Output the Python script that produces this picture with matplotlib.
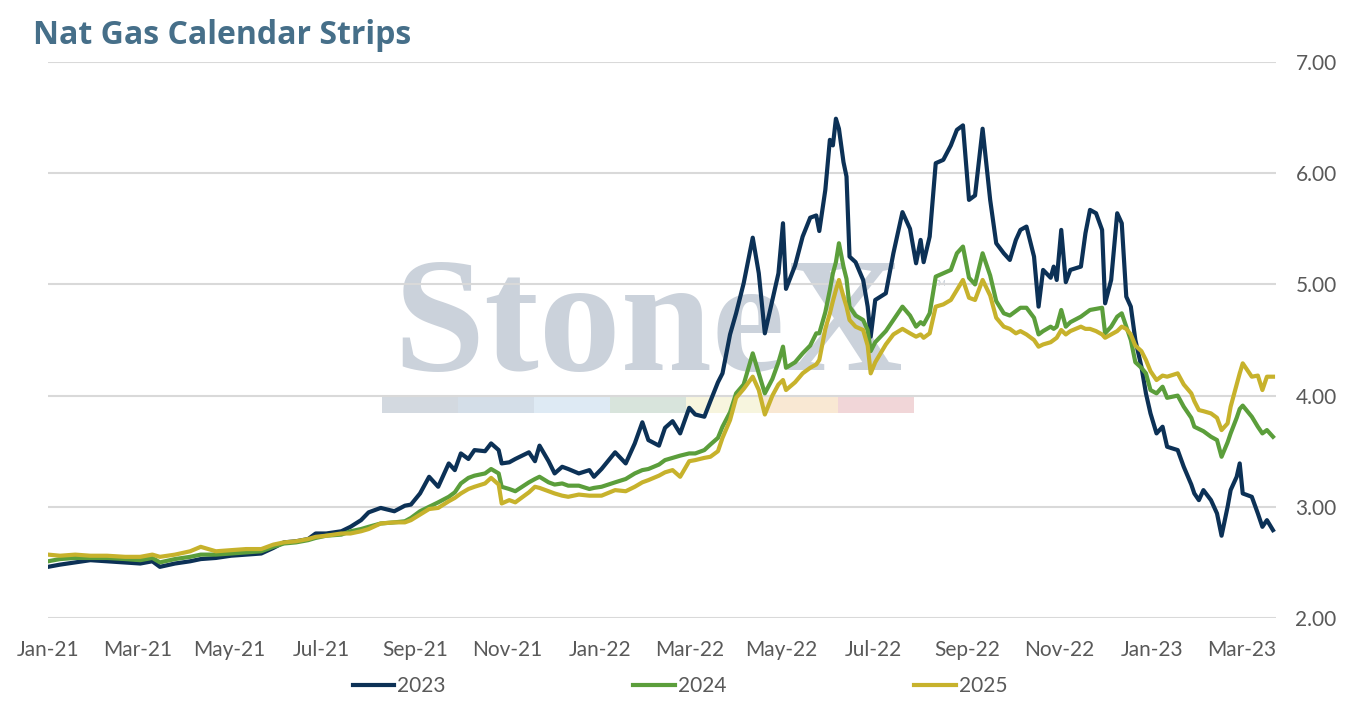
import pandas as pd
import matplotlib
matplotlib.use('Agg')
import matplotlib.pyplot as plt
import matplotlib.dates as mdates
from matplotlib.patches import Rectangle
from matplotlib.ticker import FormatStrFormatter

# values, roughly every few trading days
dates = ['2021-01-01', '2021-01-09', '2021-01-19', '2021-01-29', '2021-02-09', '2021-02-21',
         '2021-03-03', '2021-03-11', '2021-03-16', '2021-03-26', '2021-04-05', '2021-04-12',
         '2021-04-22', '2021-05-02', '2021-05-12', '2021-05-22', '2021-05-30', '2021-06-06',
         '2021-06-14', '2021-06-22', '2021-06-27', '2021-07-04', '2021-07-14', '2021-07-20',
         '2021-07-27', '2021-08-01', '2021-08-09', '2021-08-18', '2021-08-25', '2021-08-29',
         '2021-09-04', '2021-09-10', '2021-09-16', '2021-09-23', '2021-09-27', '2021-10-01',
         '2021-10-06', '2021-10-10', '2021-10-17', '2021-10-21', '2021-10-26', '2021-10-28',
         '2021-11-02', '2021-11-06', '2021-11-15', '2021-11-19', '2021-11-22', '2021-11-28',
         '2021-12-02', '2021-12-07', '2021-12-11', '2021-12-18', '2021-12-25', '2021-12-28',
         '2022-01-02', '2022-01-11', '2022-01-18', '2022-01-24', '2022-01-29', '2022-02-02',
         '2022-02-09', '2022-02-13', '2022-02-18', '2022-02-23', '2022-03-01', '2022-03-05',
         '2022-03-11', '2022-03-15', '2022-03-20', '2022-03-23', '2022-03-28', '2022-04-01',
         '2022-04-06', '2022-04-12', '2022-04-16', '2022-04-20', '2022-04-25', '2022-04-29',
         '2022-05-02', '2022-05-04', '2022-05-10', '2022-05-15', '2022-05-20', '2022-05-24',
         '2022-05-26', '2022-05-30', '2022-06-02', '2022-06-04', '2022-06-06', '2022-06-08',
         '2022-06-11', '2022-06-13', '2022-06-15', '2022-06-19', '2022-06-24', '2022-06-27',
         '2022-06-29', '2022-07-02', '2022-07-09', '2022-07-14', '2022-07-20', '2022-07-25',
         '2022-07-29', '2022-08-01', '2022-08-03', '2022-08-07', '2022-08-11', '2022-08-16',
         '2022-08-21', '2022-08-25', '2022-08-29', '2022-09-02', '2022-09-06', '2022-09-11',
         '2022-09-16', '2022-09-20', '2022-09-25', '2022-09-29', '2022-10-03', '2022-10-06',
         '2022-10-10', '2022-10-15', '2022-10-18', '2022-10-21', '2022-10-26', '2022-10-28',
         '2022-10-30', '2022-11-02', '2022-11-05', '2022-11-08', '2022-11-15', '2022-11-18',
         '2022-11-21', '2022-11-25', '2022-11-29', '2022-12-01', '2022-12-05', '2022-12-09',
         '2022-12-12', '2022-12-15', '2022-12-18', '2022-12-21', '2022-12-25', '2022-12-28',
         '2022-12-31', '2023-01-04', '2023-01-08', '2023-01-11', '2023-01-18', '2023-01-22',
         '2023-01-27', '2023-01-29', '2023-02-01', '2023-02-04', '2023-02-09', '2023-02-13',
         '2023-02-16', '2023-02-20', '2023-02-22', '2023-02-26', '2023-02-28', '2023-03-02',
         '2023-03-08', '2023-03-12', '2023-03-15', '2023-03-18', '2023-03-22']

strip_2023 = [2.46, 2.48, 2.50, 2.52, 2.51, 2.50, 2.49, 2.51, 2.46, 2.49, 2.51, 2.53,
              2.54, 2.56, 2.57, 2.58, 2.63, 2.68, 2.69, 2.71, 2.76, 2.76, 2.78, 2.82,
              2.88, 2.95, 2.99, 2.96, 3.01, 3.02, 3.12, 3.27, 3.18, 3.39, 3.33, 3.48,
              3.43, 3.51, 3.50, 3.57, 3.51, 3.39, 3.40, 3.43, 3.49, 3.41, 3.55, 3.41,
              3.30, 3.36, 3.34, 3.30, 3.33, 3.27, 3.34, 3.49, 3.39, 3.57, 3.76, 3.60,
              3.55, 3.71, 3.77, 3.66, 3.89, 3.83, 3.81, 3.95, 4.12, 4.20, 4.55, 4.74,
              5.01, 5.42, 5.10, 4.56, 4.86, 5.10, 5.55, 4.96, 5.17, 5.43, 5.60, 5.62,
              5.48, 5.85, 6.30, 6.25, 6.49, 6.40, 6.10, 5.97, 5.25, 5.20, 5.04, 4.80,
              4.53, 4.86, 4.92, 5.28, 5.65, 5.50, 5.19, 5.40, 5.20, 5.43, 6.09, 6.12,
              6.25, 6.39, 6.43, 5.76, 5.80, 6.40, 5.76, 5.37, 5.28, 5.22, 5.40, 5.49,
              5.52, 5.25, 4.80, 5.13, 5.06, 5.16, 5.04, 5.49, 5.02, 5.13, 5.16, 5.46,
              5.67, 5.64, 5.49, 4.83, 5.04, 5.64, 5.55, 4.89, 4.80, 4.50, 4.26, 4.02,
              3.84, 3.66, 3.72, 3.54, 3.51, 3.36, 3.20, 3.12, 3.06, 3.15, 3.06, 2.94,
              2.74, 3.00, 3.15, 3.27, 3.39, 3.12, 3.09, 2.94, 2.82, 2.88, 2.79]

strip_2024 = [2.51, 2.53, 2.54, 2.54, 2.54, 2.53, 2.52, 2.54, 2.50, 2.53, 2.55, 2.57,
              2.57, 2.58, 2.59, 2.60, 2.64, 2.67, 2.68, 2.70, 2.72, 2.74, 2.75, 2.78,
              2.80, 2.82, 2.85, 2.86, 2.87, 2.90, 2.96, 3.00, 3.04, 3.09, 3.13, 3.21,
              3.26, 3.28, 3.30, 3.34, 3.30, 3.18, 3.16, 3.14, 3.22, 3.25, 3.27, 3.22,
              3.20, 3.21, 3.19, 3.19, 3.16, 3.17, 3.18, 3.22, 3.25, 3.30, 3.33, 3.34,
              3.38, 3.42, 3.44, 3.46, 3.48, 3.48, 3.51, 3.56, 3.62, 3.72, 3.85, 4.02,
              4.10, 4.38, 4.20, 4.02, 4.15, 4.30, 4.44, 4.25, 4.30, 4.38, 4.45, 4.56,
              4.56, 4.75, 4.95, 5.10, 5.20, 5.37, 5.16, 5.05, 4.80, 4.72, 4.68, 4.59,
              4.40, 4.48, 4.58, 4.68, 4.80, 4.72, 4.62, 4.66, 4.64, 4.74, 5.07, 5.10,
              5.13, 5.28, 5.34, 5.06, 5.00, 5.28, 5.08, 4.85, 4.74, 4.72, 4.76, 4.79,
              4.79, 4.70, 4.55, 4.58, 4.62, 4.60, 4.62, 4.77, 4.62, 4.66, 4.71, 4.74,
              4.77, 4.78, 4.79, 4.56, 4.62, 4.71, 4.74, 4.62, 4.50, 4.30, 4.25, 4.20,
              4.05, 4.02, 4.08, 3.98, 4.00, 3.90, 3.80, 3.72, 3.70, 3.68, 3.63, 3.60,
              3.45, 3.58, 3.66, 3.80, 3.88, 3.91, 3.81, 3.72, 3.66, 3.69, 3.63]

strip_2025 = [2.57, 2.56, 2.57, 2.56, 2.56, 2.55, 2.55, 2.57, 2.55, 2.57, 2.60, 2.64,
              2.60, 2.61, 2.62, 2.62, 2.66, 2.68, 2.69, 2.71, 2.73, 2.74, 2.76, 2.76,
              2.78, 2.80, 2.85, 2.86, 2.86, 2.88, 2.93, 2.98, 2.99, 3.05, 3.08, 3.12,
              3.16, 3.18, 3.21, 3.26, 3.20, 3.03, 3.06, 3.04, 3.13, 3.18, 3.17, 3.14,
              3.12, 3.10, 3.09, 3.11, 3.10, 3.10, 3.10, 3.15, 3.14, 3.18, 3.22, 3.24,
              3.28, 3.31, 3.33, 3.27, 3.41, 3.42, 3.44, 3.45, 3.50, 3.62, 3.78, 3.98,
              4.06, 4.17, 4.05, 3.83, 4.00, 4.10, 4.14, 4.05, 4.12, 4.20, 4.25, 4.28,
              4.32, 4.60, 4.74, 4.85, 4.95, 5.04, 4.89, 4.80, 4.68, 4.62, 4.59, 4.45,
              4.20, 4.30, 4.46, 4.55, 4.60, 4.56, 4.53, 4.55, 4.52, 4.56, 4.80, 4.82,
              4.86, 4.95, 5.04, 4.88, 4.86, 5.04, 4.90, 4.70, 4.62, 4.60, 4.56, 4.58,
              4.55, 4.50, 4.44, 4.46, 4.48, 4.50, 4.52, 4.59, 4.55, 4.58, 4.62, 4.60,
              4.60, 4.58, 4.55, 4.52, 4.55, 4.58, 4.62, 4.60, 4.55, 4.45, 4.40, 4.32,
              4.22, 4.14, 4.18, 4.17, 4.20, 4.10, 4.02, 3.95, 3.87, 3.86, 3.84, 3.80,
              3.69, 3.75, 3.90, 4.10, 4.20, 4.29, 4.17, 4.18, 4.05, 4.17, 4.17]

series_names = ['2023', '2024', '2025']
series_colors = ['#0c3156', '#5b9e3b', '#c7b22c']

df = pd.DataFrame({'date': pd.to_datetime(dates), '2023': strip_2023,
                   '2024': strip_2024, '2025': strip_2025})

plt.rcParams['font.family'] = ['Lato', 'DejaVu Sans']

fig = plt.figure(figsize=(13.54, 7.07), dpi=100)
ax = fig.add_axes([48/1354, 1-618/707, (1276-48)/1354, (618-62)/707])

# stonex watermark
ax.text(648/1354, 1-370/707, 'StoneX', transform=fig.transFigure, family='Liberation Serif',
        fontsize=118, fontweight='bold', color='#cbd2db', ha='center', va='baseline',
        zorder=0.2)
ax.text(934/1354, 1-284/707, 'TM', transform=fig.transFigure, fontsize=6, color='#cbd2db',
        ha='left', va='center', zorder=0.2)
bar_colors = ['#d3d9e0', '#d4dee8', '#deeaf4', '#d8e4dc', '#f7f5de', '#f9e8d3', '#f1d6d8']
for i, c in enumerate(bar_colors):
    ax.add_patch(Rectangle(((382 + i*76)/1354, 1-413/707), 76/1354, 16/707,
                           transform=fig.transFigure, color=c, zorder=0.3, lw=0))

for name, col in zip(series_names, series_colors):
    ax.plot(df['date'], df[name], color=col, lw=3.0, label=name, zorder=2)

ax.set_ylim(2, 7)
ax.set_xlim(pd.Timestamp('2021-01-01'), pd.Timestamp('2023-03-24'))
ax.set_yticks([2, 3, 4, 5, 6, 7])
ax.yaxis.set_major_formatter(FormatStrFormatter('%.2f'))
ax.yaxis.tick_right()
ax.xaxis.set_major_locator(mdates.MonthLocator(bymonth=[1, 3, 5, 7, 9, 11]))
ax.xaxis.set_major_formatter(mdates.DateFormatter('%b-%y'))
ax.tick_params(axis='both', length=0, labelsize=15, labelcolor='#595959')
ax.tick_params(axis='y', pad=14)
ax.tick_params(axis='x', pad=16)
ax.grid(axis='y', color='#d9d9d9', lw=1.5)
ax.set_axisbelow(True)
for s in ax.spines.values():
    s.set_visible(False)

fig.text(33/1354, 1-36/707, 'Nat Gas Calendar Strips', fontsize=23, fontweight='bold',
         family=['Open Sans', 'DejaVu Sans'], color='#466f89', ha='left', va='center')

fig.legend(loc='center', bbox_to_anchor=(680/1354, 1-686/707), ncol=3, frameon=False,
           fontsize=15, labelcolor='#595959', handlelength=2.0, handletextpad=0.15,
           columnspacing=9.0)

fig.savefig('out.png', dpi=100)
